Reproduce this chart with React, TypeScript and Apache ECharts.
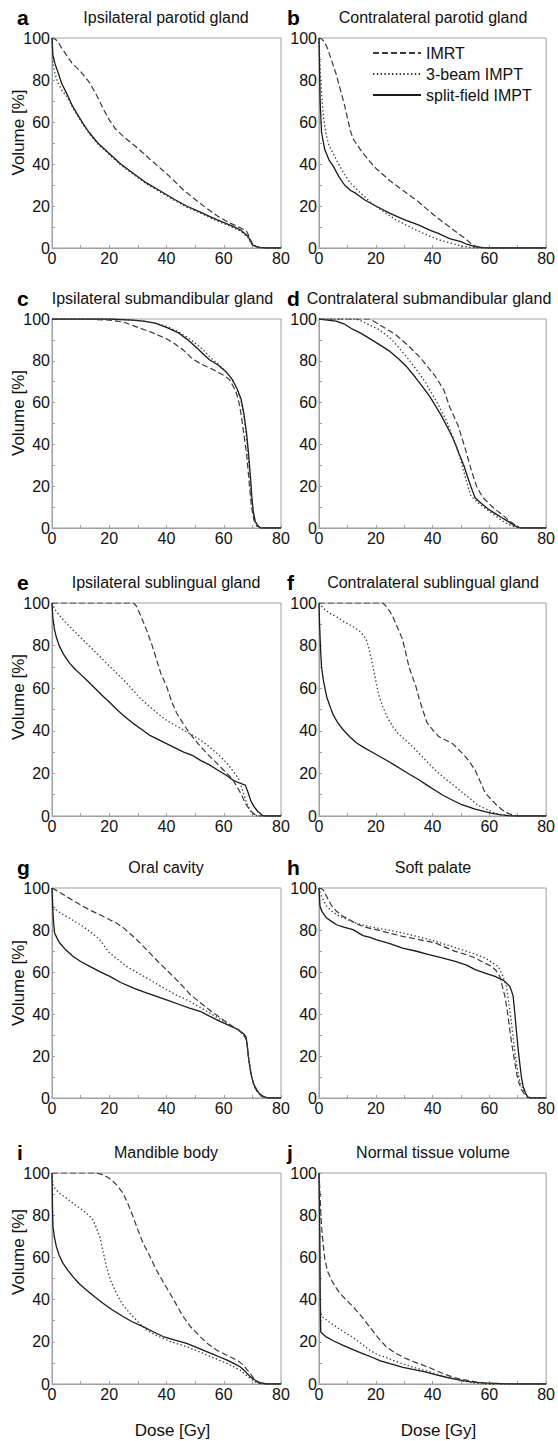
import React, { useEffect, useRef } from "react";
import * as echarts from "echarts";

// ---------- data (dose [Gy], volume [%]) ----------
const aIMRT = [[0,100],[1,99.5],[2,98.5],[3,96],[5,92],[7,88],[10,84],[13,79],[15.5,73],[18,66],[20,61],[22,57],[25,53],[30,47.5],[34,42.5],[40,35.5],[46,27.5],[52,21],[57.5,15.5],[62,12],[66,9.5],[68,8],[69,5],[70,2],[71,0.8],[73,0.2],[75,0],[80,0]];
const aBeam = [[0,100],[0.3,88],[1,83],[2,79],[3.5,75],[5,72.5],[7,67.5],[8.5,64],[11,58.5],[13,54.5],[16,49.5],[20,44.5],[24,39.5],[28,35.5],[33,30.5],[38,26.5],[43,22.5],[47,19.5],[52,16.5],[57.5,13],[62,10.5],[66,8],[68.5,5],[70,1.8],[72,0.4],[75,0],[80,0]];
const aSplit = [[0,100],[0.3,92],[1,88],[2,84],[3.5,78],[5,74],[7,68],[8.5,64.5],[11,59],[13,55],[16,50],[20,45],[24,40],[28,36],[33,31],[38,27],[43,23],[47,20],[52,17],[57.5,13.5],[62,11],[66,8.5],[68.5,5.5],[70,1.5],[72,0.3],[75,0],[80,0]];

const bIMRT = [[0,100],[1,99.5],[2,98],[3,95],[4,91],[5,87],[6,83],[7,78],[8,73],[9,68],[10,62],[11,56],[12,52],[13,50],[15,46],[18,41],[20,38],[25,32],[30,27],[35,22],[38,18.5],[42,14],[46,10],[50,6],[52,4],[54,1.5],[56,0.5],[58,0.1],[60,0],[80,0]];
const bBeam = [[0,100],[0.3,88],[0.7,78],[1.5,63],[2.5,54],[3.5,49],[5,45],[6.5,41],[9,35],[11,31],[14,27],[18,22],[22,18],[27,13.5],[32,10],[37,6.8],[42,4],[46,2.5],[50,1],[53,0.3],[56,0],[80,0]];
const bSplit = [[0,100],[0.2,85],[0.4,70],[0.9,55],[2,47],[3.5,42],[5,39],[7,34],[9,30],[11,27.5],[13,26],[16,23],[20,20],[25,16.5],[30,13.5],[35,11],[39,8.5],[42,7],[46,4.5],[50,3],[52,1.8],[55,0.6],[58,0.2],[60,0],[80,0]];

const cIMRT = [[0,100],[10,100],[20,99.5],[25,98.5],[28,97],[32,95],[35,93.5],[40,90.5],[43,88],[46,85],[49,81],[52,78.5],[56,76],[60,73],[62,71],[64,66],[65,62],[66,55],[67,45],[68,35],[69,20],[69.7,10],[70.5,4],[71.5,1],[73,0],[80,0]];
const cBeam = [[0,100],[20,100],[28,99.5],[32,99],[36,98],[40,96.5],[44,94],[47,91.5],[50,88.5],[53,85],[55,82],[58,78.5],[61,74.5],[63,71],[64.5,67],[66,61],[67,54],[67.8,45],[68.5,35],[69.1,25],[69.6,15],[70.2,8],[71,3],[72,1],[73,0],[80,0]];
const cSplit = [[0,100],[20,100],[28,99.5],[32,99],[36,98],[40,96],[44,93.5],[47,90.5],[50,87],[53,83],[55,80.5],[58,78],[61,74.5],[63,71],[64.5,67],[66,62],[67,55],[68,45],[68.7,35],[69.3,25],[69.8,15],[70.3,8],[71,3],[72,1],[73,0],[80,0]];

const dIMRT = [[0,100],[10,100],[18,100],[21,97.5],[24,95],[27,92.5],[30,89],[32,86.5],[36,81],[41,72.5],[44,66],[46,58],[49,49],[51.5,38],[53.8,27],[55.5,20],[57.5,15],[60,11.5],[62,9],[64.5,6.5],[66.5,4],[68.5,2],[70.5,0.2],[72,0],[80,0]];
const dBeam = [[0,100],[8,100],[13,100],[15,99],[18,97],[21,95],[25,91],[28,86.5],[31.7,80.5],[35,74.5],[37.6,69.5],[42.2,58.5],[45,51],[47,44],[49,37],[50.5,29.5],[52,22],[53.5,15.5],[56,12],[59,9],[62,6],[64.5,3.5],[66.6,1.8],[69,0.5],[71,0],[80,0]];
const dSplit = [[0,100],[3,99.5],[6,99],[9,97.5],[12,95],[15,93],[18,90.5],[21,88],[25,84.5],[28,81],[31,77],[34,72],[36.5,67.5],[39,63],[41,58.5],[43,54],[45.7,47],[47.5,42],[49.2,36],[51,30],[52.7,23],[54,18],[55,14.5],[57,12],[59.7,9],[62,7],[64.3,5],[67,2.8],[69,1],[70.5,0.2],[72,0],[80,0]];

const eIMRT = [[0,100],[10,100],[20,100],[28.5,100],[29.5,98.5],[31,94],[33,87.5],[35,80],[36.5,73.5],[38,67],[40,61],[42,53],[43.5,48.5],[46,43],[48,39],[51,34],[54,29.5],[57,25.5],[60,21.5],[63,17.5],[64.5,14],[66,10.5],[67.5,6],[69,3],[70.5,1],[72,0],[80,0]];
const eBeam = [[0,100],[1,97],[3,93.5],[5,90.5],[8,86.5],[11,82.5],[14,78.5],[17,74.5],[20,70.5],[23,66.5],[26,62.5],[28.3,59],[31,55],[34,51.5],[37,48],[40,45],[43,42.5],[46,40.3],[49,38],[52,35.5],[55,32.5],[58,29],[61,25],[63,21.5],[65,18],[66.5,12.5],[68,6],[69.5,2],[71,0.3],[72,0],[80,0]];
const eSplit = [[0,100],[0.3,93],[0.8,88],[1.5,84],[2.5,80],[4,76],[6,72],[8,69],[10,66.5],[12,64],[15,60],[18,56],[20,53.5],[23,49.5],[26,46],[28.3,43.5],[31,41],[34,38],[37,36],[40,34],[43,32],[46,30],[49,28.5],[52,26],[55,24],[58,21.5],[61,19],[63,17],[65.5,15.5],[67.5,14.5],[68.5,11],[69.5,7],[70.5,4.5],[72,2],[73.5,0.3],[74.5,0],[80,0]];

const fIMRT = [[0,100],[10,100],[20,100],[22.5,100],[23.6,98.5],[25,96],[26,93.5],[27.5,89],[29.4,83],[30.5,77],[31.7,70],[33,65],[34.1,61],[35.5,54],[37,48],[38,44],[40,40.5],[42.2,37.3],[44,36],[47,34],[49,31.5],[51.5,28],[53,25.5],[55,21.5],[56.5,17],[58.5,11],[60.5,8],[63,4.5],[65,2.5],[67,1],[69,0.3],[71,0],[80,0]];
const fBeam = [[0,100],[1.5,97.5],[4,95],[6.2,93.5],[9,91],[12,89],[15,86],[16.6,83],[17.5,79],[18.4,74],[19.3,68],[20.1,63],[21,57],[22.4,51.5],[24,46.5],[26,42],[28,38.5],[30.6,35.5],[33,32.5],[35.2,29.5],[38,25.5],[41,21.5],[44,18],[48,13.8],[51,10.5],[53.8,7.5],[56,5],[59.7,2.8],[62,1.3],[64.3,0.5],[67,0],[80,0]];
const fSplit = [[0,100],[0.2,90],[0.35,85],[0.6,77],[0.9,70],[1.5,64],[2.7,56],[4,51],[5,47.5],[6.5,44],[8.5,40.5],[11,37],[13,34.5],[16,32],[18,30.5],[20,29],[23.6,26.3],[26.5,24],[29.4,21.6],[32,19.5],[35.2,17],[38,14.5],[41,12],[44,9.5],[46.9,7.5],[50,5.5],[52.7,4.3],[55,3.2],[58.5,2],[61,1.2],[64.3,0.5],[67,0.2],[70,0],[80,0]];

const gIMRT = [[0,100],[2,98.5],[5,96],[8,93.5],[10.8,91.3],[14,89],[16.7,87.3],[20,85],[22.5,83.3],[25,81],[28.3,77],[31,73.5],[34.2,69],[37,65],[40,61],[43,57],[45.8,53],[48.5,49],[51.7,45.5],[54.5,42.5],[57,40],[61,36],[65,32.5],[67,30],[68,27.5],[68.6,20],[69.5,12],[70.5,6],[71.5,3.5],[73,1],[74.5,0.2],[76,0],[80,0]];
const gBeam = [[0,100],[0.35,91.3],[1.5,89.5],[3,88],[5,86.5],[8,84],[10.8,81.7],[13.5,79],[16.7,75.4],[18.5,72],[20.2,69],[23,66],[26,62.7],[30,59.5],[34.2,56.3],[37,54],[40,51.6],[43.5,49],[47,46.8],[50,44.5],[54.1,41.3],[57.5,38.5],[61,35.7],[63,34],[65.1,32.5],[67,30],[68,27.5],[68.6,20],[69.5,12],[70.5,6],[71.5,3.5],[73,1],[74.5,0.2],[76,0],[80,0]];
const gSplit = [[0,100],[0.2,92],[0.35,88],[0.6,83],[0.9,78.6],[1.8,76],[2.7,73.8],[4.5,71],[7.3,67.5],[10,65],[13.2,62.7],[16.5,60.3],[20.2,57.9],[24,55],[28.3,52.4],[32,50.5],[36.5,48.4],[40.5,46.5],[44.7,44.4],[48,42.8],[51.7,41.3],[55,39],[58.7,36.5],[62,34.5],[65.1,32.5],[67,30.5],[67.8,29],[68.3,24],[68.6,19.8],[69.2,14],[69.7,10.3],[70.5,6.5],[71.5,4],[72.5,2],[73.8,0.8],[75.6,0],[80,0]];

const hIMRT = [[0,100],[1,99.5],[1.5,99],[2.5,96.5],[3.3,94.4],[4.5,91.5],[6.2,88.9],[8.5,86.5],[10.8,84.9],[13,83],[15.5,81.7],[18,80.8],[20.1,80.2],[25,78.5],[29.4,77],[35,75.5],[41,73.8],[45,71.5],[48,69.8],[52,68.2],[55,66.7],[58,64.5],[60.8,62.7],[62.5,60.5],[63.7,57.9],[64.8,52],[65.5,48.4],[66.5,40],[67.2,32.5],[68,25],[69,16.7],[70,9],[71.3,4],[72.5,1.5],[73.6,0.2],[75,0],[80,0]];
const hBeam = [[0,100],[0.3,98],[0.9,96],[1.8,93.5],[2.7,91.3],[4.5,89],[6.2,87.3],[9,85.5],[13.1,83.3],[16.5,82],[20.1,81],[25,79.8],[29.4,78.6],[35,76.8],[41,74.6],[46,72.5],[50.3,70.6],[54,69],[58.5,66.7],[61,64.5],[63.1,62.7],[64.5,59],[66,53.2],[67,44],[67.8,35.7],[68.7,25],[69.5,16.7],[70.5,9],[71.9,4],[72.8,1.5],[73.6,0.2],[75,0],[80,0]];
const hSplit = [[0,100],[0.15,96],[0.35,91.3],[1.2,88.5],[2.7,85.7],[4.5,84],[6.2,82.5],[9,81.3],[12,80.2],[14,78.5],[15.5,77.3],[18,76.5],[20.1,75.4],[25,73.5],[29.4,71.4],[34,70],[38.7,68.3],[43,66.8],[48,65.1],[52,63.3],[55,61.1],[58.5,59.5],[62,57.9],[65,56],[67.2,53.2],[67.8,51],[68.4,48.4],[69,40],[69.5,32.5],[70.1,24],[70.7,16.7],[71.3,10],[71.9,5.6],[72.7,2.5],[73.6,0.4],[75,0],[80,0]];

const iIMRT = [[0,100],[5,100],[10,100],[15.5,100],[17.8,99.2],[20,97.5],[22.5,94.5],[24.8,90.5],[26.5,85.5],[28.3,79.4],[30,73],[31.8,66.8],[34,61],[36.5,54],[39,48],[41.2,43],[43.5,37.5],[45.8,32],[48.5,27],[51.7,22.5],[54.5,19],[57.5,16.1],[60.5,14],[63.3,12.2],[65.5,10.5],[66.8,9],[68,7],[69.2,5.1],[70.3,3],[71.5,1.1],[72.7,0.3],[74,0],[80,0]];
const iBeam = [[0,100],[0.2,96],[0.35,93.7],[1.5,92],[3,90],[5,88.1],[8,85],[10.8,82.3],[12.8,80],[14.3,77.8],[15.5,74],[16.7,69.9],[17.8,63],[19,55.7],[20.5,49],[22.5,43],[24.5,38],[27.2,33.5],[30,29.5],[33,25.6],[36.5,23],[40,20.9],[43.5,19.2],[47,17.7],[50.5,15.8],[54,13.8],[57.5,11.8],[61,9.8],[63.5,8.2],[65.7,6.6],[67.5,4.6],[69.2,2.7],[71,1],[72.7,0.3],[74,0],[80,0]];
const iSplit = [[0,100],[0.1,90],[0.2,82],[0.35,74.7],[0.8,70],[1.5,65.2],[2.5,61],[3.8,57.3],[5.5,54],[7.3,50.9],[9.5,47.5],[12,44.6],[15,41.2],[17.8,38.3],[21,35.2],[24.8,32],[28,29.5],[31.8,27.2],[35,25],[38.8,22.5],[43,20.8],[47,19.3],[50.5,17.4],[54,15.3],[57.5,13.4],[61,11.4],[63.5,9.8],[65.7,8.2],[67.5,6],[69.2,3.5],[71,1.8],[72.7,0.6],[75,0],[80,0]];

const jIMRT = [[0,100],[0.15,96],[0.35,90.5],[0.6,82],[0.9,74.6],[1.5,66],[2.1,58.7],[3,53.5],[4.4,49.2],[5.8,46],[7.4,42.9],[9.5,40],[12.1,36.5],[15,32],[17.9,27],[20.5,22.5],[23.8,17.5],[26.5,15],[29.6,12.7],[32.5,11],[35.5,9.5],[38.5,8],[41.3,6.3],[44,4.8],[47.2,3.2],[50,2.3],[53,1.6],[56,0.8],[58.9,0.3],[62,0.1],[65,0],[80,0]];
const jBeam = [[0,100],[0.15,85],[0.3,65],[0.45,45],[0.6,34],[1,32],[2,31],[4,29],[6.2,27],[9,24.5],[12.1,22],[15,19],[17.9,16],[20.5,14],[23.8,12.5],[26.5,11],[29.6,9.5],[32.5,8.2],[35.5,7.1],[38.5,6],[41.3,4.8],[44,3.6],[47.2,2.4],[50,1.5],[53,0.8],[56,0.3],[58.9,0],[80,0]];
const jSplit = [[0,100],[0.15,85],[0.3,65],[0.45,40],[0.6,24.6],[1.5,23.5],[2.7,22.2],[5,20.5],[8.5,18.3],[12,16.3],[15.6,14.3],[18.5,12.8],[21.4,11.1],[25,9.6],[29.6,7.9],[33.5,6.8],[37.8,5.6],[41,4.4],[44.8,3.2],[48,2.3],[50.7,1.6],[53,1.1],[55.4,0.8],[58,0.5],[62.4,0.3],[66,0.1],[72,0],[80,0]];

const LETTERS = ["a", "b", "c", "d", "e", "f", "g", "h", "i", "j"];
const TITLES = [
  "Ipsilateral parotid gland",
  "Contralateral parotid gland",
  "Ipsilateral submandibular gland",
  "Contralateral submandibular gland",
  "Ipsilateral sublingual gland",
  "Contralateral sublingual gland",
  "Oral cavity",
  "Soft palate",
  "Mandible body",
  "Normal tissue volume",
];
const SERIES_NAMES = ["IMRT", "3-beam IMPT", "split-field IMPT"];
const PANEL_DATA = [
  [aIMRT, aBeam, aSplit],
  [bIMRT, bBeam, bSplit],
  [cIMRT, cBeam, cSplit],
  [dIMRT, dBeam, dSplit],
  [eIMRT, eBeam, eSplit],
  [fIMRT, fBeam, fSplit],
  [gIMRT, gBeam, gSplit],
  [hIMRT, hBeam, hSplit],
  [iIMRT, iBeam, iSplit],
  [jIMRT, jBeam, jSplit],
];
const X_LABEL = "Dose [Gy]";
const Y_LABEL = "Volume [%]";

// ---------- layout ----------
const ROWS = [[38, 248], [319, 528], [603, 816], [888, 1098], [1173, 1384]];
const COLS = [[52, 281], [319, 548]];
const TITLE_X = [166, 433, 162.5, 429, 166, 433, 166, 433, 166, 433];
const YNAME_Y = [132.5, 413, 697, 983, 1252];
const XNAME_X = [172.5, 438.5];
const FONT = "'Liberation Sans', Arial, Helvetica, sans-serif";
const FRAME = "#a0a0a0";
const INK = "#111";

const LINE_STYLES = [
  { color: "#3a3a3a", width: 1.2, type: [6, 3] },
  { color: "#3a3a3a", width: 1.3, type: [1.4, 2.4] },
  { color: "#1a1a1a", width: 1.3, type: "solid" },
];

function buildOption() {
  const grids: any[] = [];
  const xAxes: any[] = [];
  const yAxes: any[] = [];
  const series: any[] = [];
  const elements: any[] = [];

  PANEL_DATA.forEach((panel, i) => {
    const col = COLS[i % 2];
    const row = ROWS[Math.floor(i / 2)];
    grids.push({
      left: col[0],
      top: row[0],
      width: col[1] - col[0],
      height: row[1] - row[0],
      show: true,
      borderColor: FRAME,
      borderWidth: 1,
      backgroundColor: "transparent",
    });
    const common = {
      type: "value",
      gridIndex: i,
      interval: 20,
      axisLine: { show: true, lineStyle: { color: FRAME, width: 1 } },
      axisTick: { show: true, inside: true, length: 3, lineStyle: { color: FRAME } },
      minorTick: { show: true, splitNumber: 2, length: 3, lineStyle: { color: FRAME } },
      splitLine: { show: false },
      axisLabel: { color: INK, fontSize: 16, fontFamily: FONT, margin: 2 },
    };
    xAxes.push({ ...common, min: 0, max: 80 });
    yAxes.push({ ...common, min: 0, max: 100 });
    panel.forEach((data, k) => {
      series.push({
        type: "line",
        name: SERIES_NAMES[k],
        xAxisIndex: i,
        yAxisIndex: i,
        data,
        symbol: "none",
        showSymbol: false,
        lineStyle: LINE_STYLES[k],
        itemStyle: { color: LINE_STYLES[k].color },
        z: 3 - k,
      });
    });
    const ty = row[0] - 21;
    elements.push({
      type: "text",
      x: TITLE_X[i],
      y: ty,
      style: {
        text: TITLES[i],
        font: `16px ${FONT}`,
        fill: INK,
        align: "center",
        verticalAlign: "middle",
        textAlign: "center",
        textVerticalAlign: "middle",
      },
    });
    elements.push({
      type: "text",
      x: i % 2 === 0 ? 17 : 287,
      y: ty,
      style: {
        text: LETTERS[i],
        font: `bold 21px ${FONT}`,
        fill: "#000",
        align: "left",
        verticalAlign: "middle",
        textAlign: "left",
        textVerticalAlign: "middle",
      },
    });
    if (i % 2 === 0) {
      elements.push({
        type: "text",
        x: 18,
        y: YNAME_Y[Math.floor(i / 2)],
        rotation: Math.PI / 2,
        style: {
          text: Y_LABEL,
          font: `17px ${FONT}`,
          fill: INK,
          align: "center",
          verticalAlign: "middle",
          textAlign: "center",
          textVerticalAlign: "middle",
        },
      });
    }
  });

  XNAME_X.forEach((x) => {
    elements.push({
      type: "text",
      x,
      y: 1430,
      style: {
        text: X_LABEL,
        font: `17px ${FONT}`,
        fill: INK,
        align: "center",
        verticalAlign: "middle",
        textAlign: "center",
        textVerticalAlign: "middle",
      },
    });
  });

  return {
    animation: false,
    backgroundColor: "#fff",
    grid: grids,
    xAxis: xAxes,
    yAxis: yAxes,
    series,
    legend: {
      show: true,
      data: SERIES_NAMES,
      orient: "vertical",
      left: 372,
      top: 45,
      itemWidth: 48,
      itemHeight: 10,
      itemGap: 5,
      padding: 0,
      selectedMode: false,
      itemStyle: { opacity: 0, borderWidth: 0 },
      textStyle: { color: INK, fontSize: 16, fontFamily: FONT },
    },
    graphic: { elements },
  };
}

export default function App() {
  const ref = useRef<HTMLDivElement>(null);
  useEffect(() => {
    document.body.style.margin = "0";
    if (!ref.current) return;
    const chart = echarts.init(ref.current, undefined, { renderer: "svg" });
    chart.setOption(buildOption() as any);
    return () => {
      chart.dispose();
    };
  }, []);
  return <div ref={ref} style={{ width: 558, height: 1441, background: "#fff" }} />;
}
